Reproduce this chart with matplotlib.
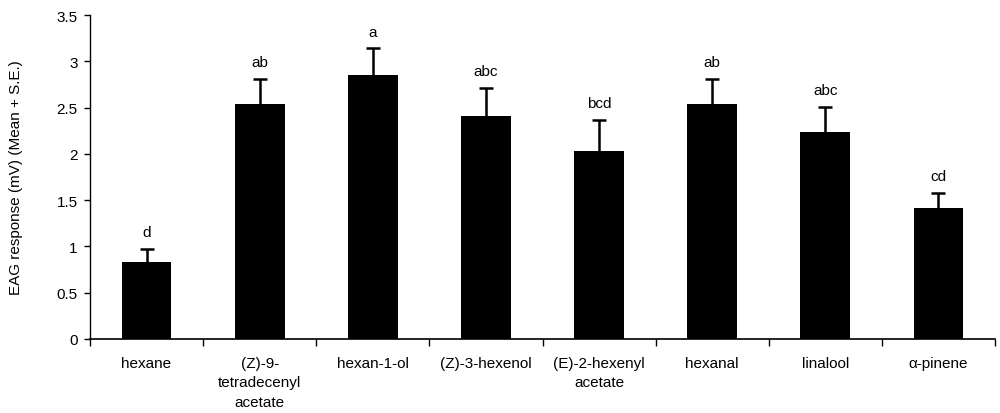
import matplotlib.pyplot as plt
import numpy as np

plt.rcParams["font.family"] = ["Liberation Sans", "DejaVu Sans"]

compounds = ["hexane", "(Z)-9-\ntetradecenyl\nacetate", "hexan-1-ol", "(Z)-3-hexenol",
             "(E)-2-hexenyl\nacetate", "hexanal", "linalool", "\u03b1-pinene"]
means = [0.83, 2.54, 2.85, 2.41, 2.03, 2.54, 2.24, 1.42]
se = [0.14, 0.27, 0.29, 0.30, 0.34, 0.27, 0.27, 0.16]
letters = ["d", "ab", "a", "abc", "bcd", "ab", "abc", "cd"]

fig = plt.figure(figsize=(10, 4.14), dpi=100)
ax = fig.add_axes([0.09, 0.179, 0.905, 0.782])

x = np.arange(len(compounds))
ax.bar(x, means, width=0.44, color="black", zorder=2)
# upper half of the error bar only
_, caps, _ = ax.errorbar(x, means, yerr=[np.zeros(len(se)), se], fmt="none",
                         ecolor="black", elinewidth=1.8, capsize=5, capthick=1.8, zorder=1)
caps[0].set_visible(False)

for xi, m, s, lab in zip(x, means, se, letters):
    ax.annotate(lab, (xi, m + s), xytext=(0, 7), textcoords="offset points",
                ha="center", va="bottom", fontsize=11)

ax.set_xlim(-0.5, len(compounds) - 0.5)
ax.set_ylim(0, 3.5)
ax.set_yticks(np.arange(0, 3.51, 0.5))
ax.set_yticklabels(["0", "0.5", "1", "1.5", "2", "2.5", "3", "3.5"], fontsize=11)
ax.set_xticks(x)
ax.set_xticklabels(compounds, fontsize=11, va="top", linespacing=1.5)
ax.tick_params(axis="x", length=0, pad=12)
ax.set_xticks(np.arange(-0.5, len(compounds), 1.0), minor=True)
ax.tick_params(axis="x", which="minor", length=5, width=1, direction="out")
ax.tick_params(axis="y", length=4, width=1, direction="out", pad=5)

for side in ["top", "right"]:
    ax.spines[side].set_visible(False)
ax.spines["left"].set_linewidth(1)
ax.spines["bottom"].set_linewidth(1.2)

ax.set_ylabel("EAG response (mV) (Mean + S.E.)", fontsize=11, labelpad=24)

fig.savefig("out.png", dpi=100)
